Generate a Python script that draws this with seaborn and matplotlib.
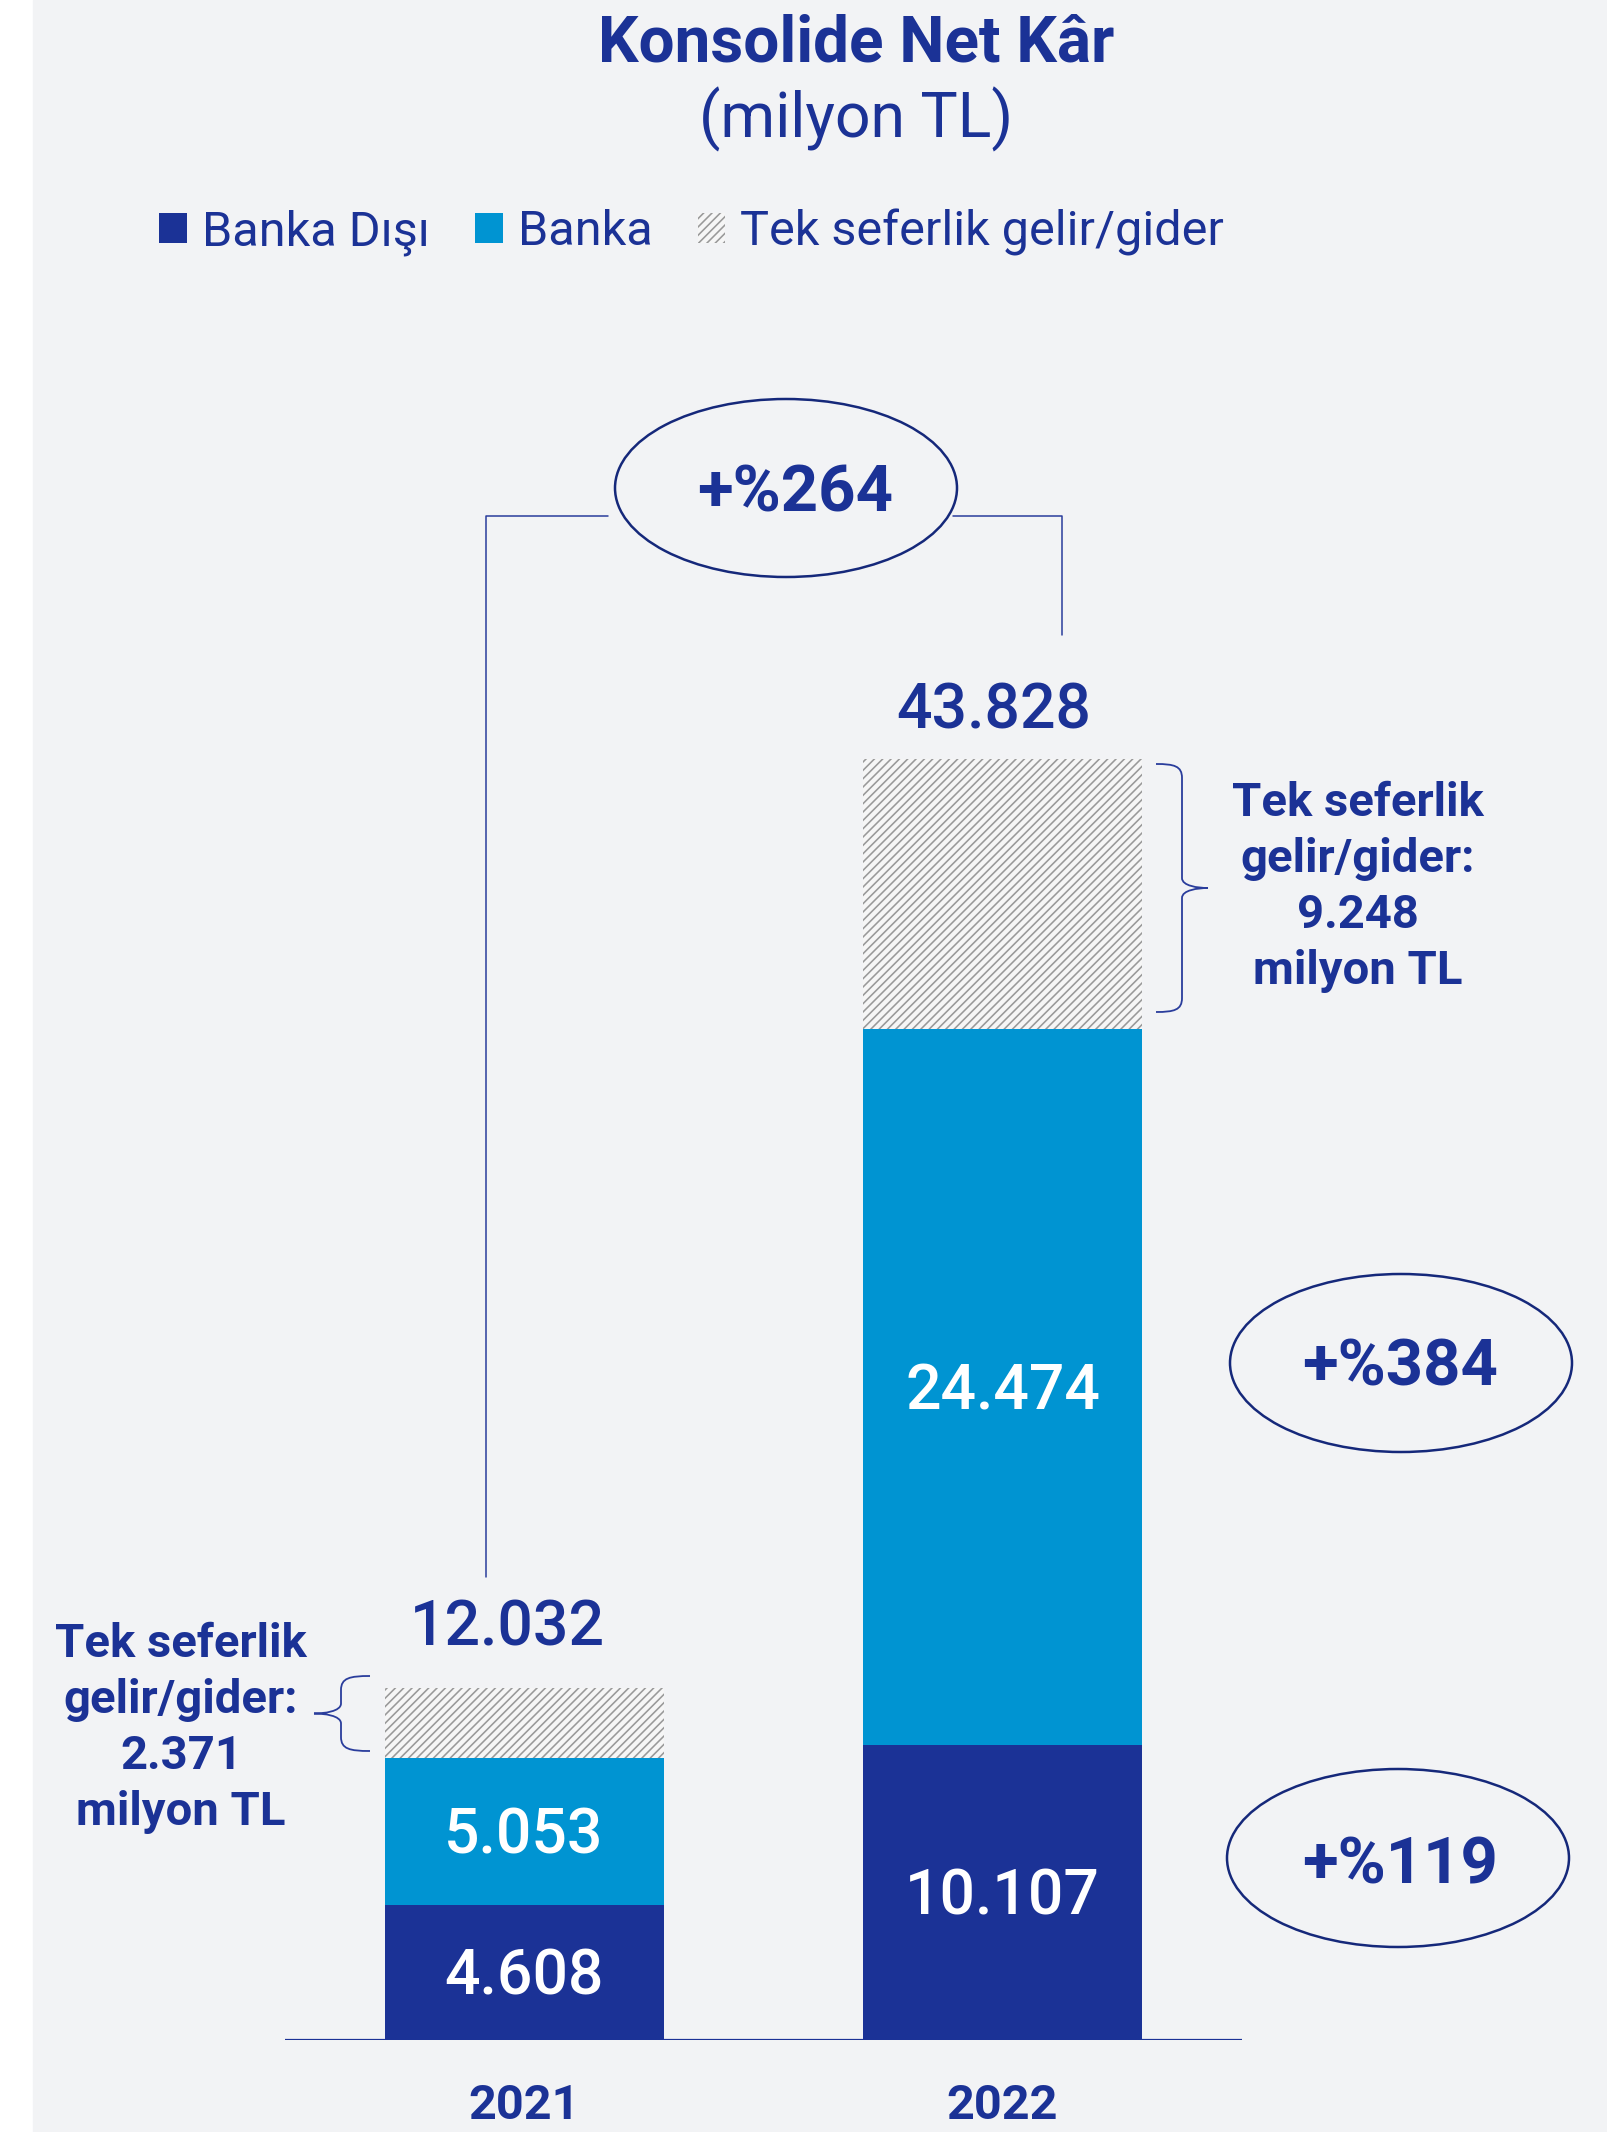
import numpy as np
import pandas as pd
import seaborn as sns
import matplotlib
matplotlib.use('Agg')
import matplotlib.pyplot as plt
from matplotlib.patches import Ellipse, Patch, PathPatch, Rectangle
from matplotlib.path import Path
from matplotlib.transforms import Affine2D

# --- data (milyon TL) ---
years = ["2021", "2022"]
banka_disi = [4608, 10107]
banka = [5053, 24474]
tek_seferlik = [2371, 9248]
totals = [12032, 43828]
growth_labels = ["+%264", "+%384", "+%119"]
legend_labels = ["Banka Dışı", "Banka", "Tek seferlik gelir/gider"]
note_labels = ["Tek seferlik\ngelir/gider:\n2.371\nmilyon TL",
               "Tek seferlik\ngelir/gider:\n9.248\nmilyon TL"]

NAVY = "#1b3296"
BLUE = "#0094d2"
BG = "#f2f3f5"
HATCH_FACE = "#f6f6f6"
HATCH_GRAY = "#999999"
LINE = "#2a3d9c"
ELL = "#15287a"

# --- layout (pixels of the 1608x2132 canvas) ---
W, H = 1608, 2132
BASE = 2040            # y pixel of the baseline
X0, DX = 524, 478.5    # pixel x of first bar centre, distance between bars
UNITS_PER_PX = 43828 / 1281


def tr(v):
    return f"{v:,}".replace(",", ".")


sns.set_theme(style="white")
plt.rcParams['font.family'] = ['Roboto', 'DejaVu Sans']
plt.rcParams['hatch.color'] = HATCH_GRAY
plt.rcParams['hatch.linewidth'] = 1.15

fig = plt.figure(figsize=(W / 100, H / 100), dpi=100)
fig.patch.set_facecolor("white")
fig.add_artist(Rectangle((33 / W, 0), 1 - 33 / W, 1, transform=fig.transFigure,
                         color=BG, zorder=-10))
px = Affine2D().scale(1 / W, -1 / H).translate(0, 1) + fig.transFigure

ax = fig.add_axes([0, (H - BASE) / H, 1, BASE / H])
ax.patch.set_alpha(0)

df = pd.DataFrame({"year": years, "banka_disi": banka_disi,
                   "banka": banka, "tek": tek_seferlik})
df["b2"] = df["banka_disi"] + df["banka"]

bar_w = 279 / DX
sns.barplot(data=df, x="year", y="banka_disi", color=NAVY, saturation=1,
            width=bar_w, errorbar=None, linewidth=0, ax=ax)
sns.barplot(data=df, x="year", y="banka", bottom=df["banka_disi"].to_numpy(),
            color=BLUE, saturation=1, width=bar_w, errorbar=None,
            linewidth=0, ax=ax)
sns.barplot(data=df, x="year", y="tek", bottom=df["b2"].to_numpy(),
            color=HATCH_FACE, saturation=1, width=bar_w, errorbar=None,
            hatch="////", edgecolor=HATCH_GRAY, linewidth=0, ax=ax)

ax.set_xlim(-X0 / DX, (W - X0) / DX)
ax.set_ylim(0, BASE * UNITS_PER_PX)
ax.hlines(0, -0.5, 1.5, color=NAVY, lw=1.6, zorder=5)
sns.despine(ax=ax, left=True, bottom=True)
ax.set_xlabel("")
ax.set_ylabel("")
ax.set_yticks([])
ax.tick_params(axis="x", length=0, pad=31, labelsize=35, labelcolor=NAVY)
for lbl in ax.get_xticklabels():
    lbl.set_fontweight("bold")

# values inside the segments
for i in range(len(years)):
    for bottom, h in [(0, banka_disi[i]), (banka_disi[i], banka[i])]:
        ax.annotate(tr(h), (i, bottom + h / 2), xytext=(0, -16),
                    textcoords="offset points", ha="center", va="baseline",
                    color="white", fontsize=45, fontweight="medium")

# totals above the bars
total_pad = [(-12, 31), (-6, 22)]
for i, t in enumerate(totals):
    ax.annotate(tr(t), (i, t), xytext=total_pad[i], textcoords="offset points",
                ha="center", va="baseline", color=NAVY, fontsize=45,
                fontweight="medium")

# title
fig.text(856, 62, "Konsolide Net Kâr", transform=px, ha="center",
         va="baseline", fontsize=46, fontweight="bold", color=NAVY)
fig.text(856, 137, "(milyon TL)", transform=px, ha="center", va="baseline",
         fontsize=45, fontweight="normal", color=NAVY)

# legend
handles = [Patch(facecolor=NAVY, linewidth=0),
           Patch(facecolor=BLUE, linewidth=0),
           Patch(facecolor=HATCH_FACE, edgecolor=HATCH_GRAY, hatch="////",
                 linewidth=0)]
leg = fig.legend(handles, legend_labels, loc="center left",
                 bbox_to_anchor=(159 / W, 1 - 232 / H), ncol=3, frameon=False,
                 handlelength=0.57, handleheight=0.57,
                 handletextpad=0.31, columnspacing=0.93, borderpad=0,
                 borderaxespad=0, labelcolor=NAVY,
                 prop={"weight": "normal", "size": 35})

# growth ellipses
ellipses = [(786, 488, 795, 511), (1401, 1363, 1400, 1386),
            (1398, 1858, 1400, 1883)]
for (cx, cy, tx, ty), lab in zip(ellipses, growth_labels):
    fig.add_artist(Ellipse((cx, cy), 342, 178, transform=px, fill=False,
                           ec=ELL, lw=1.8))
    fig.text(tx, ty, lab, transform=px, ha="center", va="baseline",
             fontsize=47, fontweight="bold", color=NAVY)

# connector from 2021 to 2022 total
fig.add_artist(plt.Line2D([608, 486, 486], [516, 516, 1577], transform=px,
                          color=LINE, lw=1.1))
fig.add_artist(plt.Line2D([953, 1062, 1062], [516, 516, 635], transform=px,
                          color=LINE, lw=1.1))


def brace(x_end, x_spine, x_tip, y_top, y_bot):
    y_mid = (y_top + y_bot) / 2
    s = 1 if x_tip < x_spine else -1
    k = abs(x_end - x_spine)
    verts = [(x_end, y_top),
             (x_spine + s * k * 0.3, y_top), (x_spine, y_top + 2), (x_spine, y_top + 14),
             (x_spine, y_mid - 10),
             (x_spine, y_mid - 2), (x_tip + s * 10, y_mid), (x_tip, y_mid),
             (x_tip + s * 10, y_mid), (x_spine, y_mid + 2), (x_spine, y_mid + 10),
             (x_spine, y_bot - 14),
             (x_spine, y_bot - 2), (x_spine + s * k * 0.3, y_bot), (x_end, y_bot)]
    codes = [Path.MOVETO, Path.CURVE4, Path.CURVE4, Path.CURVE4, Path.LINETO,
             Path.CURVE4, Path.CURVE4, Path.CURVE4, Path.CURVE4, Path.CURVE4,
             Path.CURVE4, Path.LINETO, Path.CURVE4, Path.CURVE4, Path.CURVE4]
    fig.add_artist(PathPatch(Path(verts, codes), transform=px, fill=False,
                             ec=LINE, lw=1.3))


brace(370, 341, 314, 1676, 1751)
brace(1156, 1182, 1208, 764, 1012)

fig.text(181, 1622, note_labels[0], transform=px, ha="center", va="top",
         fontsize=34, fontweight="bold", color=NAVY, linespacing=1.34,
         multialignment="center")
fig.text(1358, 781, note_labels[1], transform=px, ha="center", va="top",
         fontsize=34, fontweight="bold", color=NAVY, linespacing=1.34,
         multialignment="center")

fig.savefig("out.png", dpi=100, facecolor=fig.get_facecolor())
